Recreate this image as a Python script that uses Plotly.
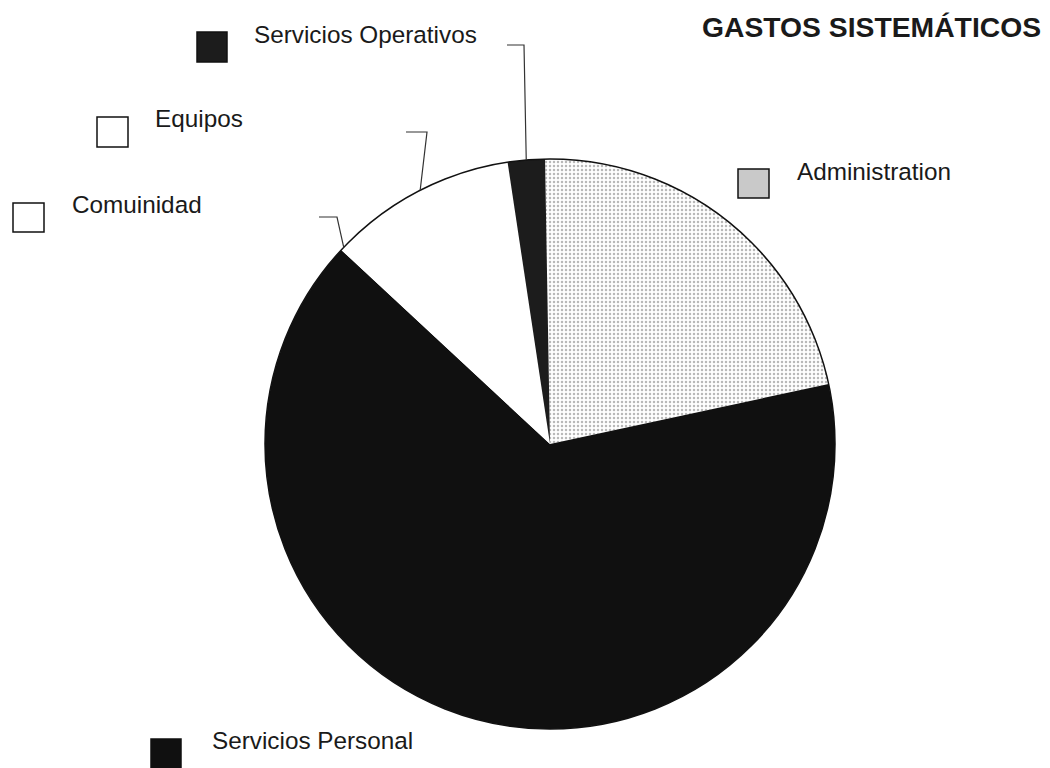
import math
import plotly.graph_objects as go

# ---- data ----
categories = ["Administration", "Servicios Personal", "Comuinidad", "Equipos", "Servicios Operativos"]
values = [21.9, 65.3, 0.4, 10.3, 2.1]
slice_colors = ["#c9c9c9", "#101010", "#ffffff", "#ffffff", "#1c1c1c"]
title_text = "GASTOS SISTEMÁTICOS"

# ---- layout constants (pixels, top-left origin) ----
W, H = 1050, 768
CX, CY, R = 550, 444, 285
ROT = -1  # start angle of first slice, clockwise from 12 o'clock

def px(x):
    return x / W

def py(y):
    return 1 - y / H

# label positions: square box (x0,y0,x1,y1), text left x, text center y, leader elbow & end (or None)
label_layout = {
    "Administration": dict(box=(738, 169, 769, 198), tx=795, ty=171, leader=None),
    "Servicios Personal": dict(box=(151, 739, 181, 772), tx=210, ty=740, leader=None),
    "Comuinidad": dict(box=(13, 203, 44, 232), tx=70, ty=204, leader=((337, 217), (319, 217))),
    "Equipos": dict(box=(97, 117, 128, 147), tx=153, ty=119, leader=((427, 132), (406, 132))),
    "Servicios Operativos": dict(box=(197, 32, 227, 62), tx=252, ty=34, leader=((524, 45), (507, 45))),
}
box_fill = {"Administration": "#c9c9c9", "Servicios Personal": "#101010", "Comuinidad": "#ffffff",
            "Equipos": "#ffffff", "Servicios Operativos": "#1c1c1c"}

FONT = "Arial, Liberation Sans, sans-serif"

fig = go.Figure()
fig.add_trace(go.Pie(
    labels=categories,
    values=values,
    sort=False,
    direction="clockwise",
    rotation=ROT,
    textinfo="none",
    hoverinfo="label+percent",
    marker=dict(
        colors=slice_colors,
        line=dict(width=0),
        pattern=dict(shape=[".", "", "", "", ""], fgcolor="#b9b9b9", size=4, solidity=0.3),
    ),
    domain=dict(x=[px(CX - R), px(CX + R)], y=[py(CY + R), py(CY - R)]),
    showlegend=False,
))

shapes = []
# outer outline of the pie
shapes.append(dict(type="circle", xref="paper", yref="paper",
                   x0=px(CX - R), x1=px(CX + R), y0=py(CY + R), y1=py(CY - R),
                   line=dict(color="#111111", width=1.5), fillcolor="rgba(0,0,0,0)"))

annotations = []
total = sum(values)
acc = 0.0
for cat, v in zip(categories, values):
    mid = ROT + (acc + v / 2) / total * 360
    acc += v
    lay = label_layout[cat]
    x0, y0, x1, y1 = lay["box"]
    shapes.append(dict(type="rect", xref="paper", yref="paper",
                       x0=px(x0), x1=px(x1), y0=py(y1), y1=py(y0),
                       line=dict(color="#111111", width=1.5), fillcolor=box_fill[cat]))
    annotations.append(dict(text=cat, xref="paper", yref="paper", x=px(lay["tx"]), y=py(lay["ty"]),
                            xanchor="left", yanchor="middle", showarrow=False,
                            font=dict(family=FONT, size=24.3, color="#1a1a1a")))
    if lay["leader"]:
        a = math.radians(mid)
        ex, ey = CX + R * math.sin(a), CY - R * math.cos(a)
        (bx, by), (dx, dy) = lay["leader"]
        path = f"M {px(ex)} {py(ey)} L {px(bx)} {py(by)} L {px(dx)} {py(dy)}"
        shapes.append(dict(type="path", xref="paper", yref="paper", path=path,
                           line=dict(color="#333333", width=1.2)))

annotations.append(dict(text="<b>" + title_text + "</b>", xref="paper", yref="paper",
                        x=px(1043), y=py(27), xanchor="right", yanchor="middle", showarrow=False,
                        font=dict(family=FONT, size=28.3, color="#1a1a1a")))

fig.update_layout(
    width=W, height=H,
    margin=dict(l=0, r=0, t=0, b=0),
    paper_bgcolor="white", plot_bgcolor="white",
    shapes=shapes, annotations=annotations,
)

fig.write_html(
    "out.html",
    config={"displayModeBar": False},
    post_script="document.body.style.margin='0';document.body.style.padding='0';",
)
